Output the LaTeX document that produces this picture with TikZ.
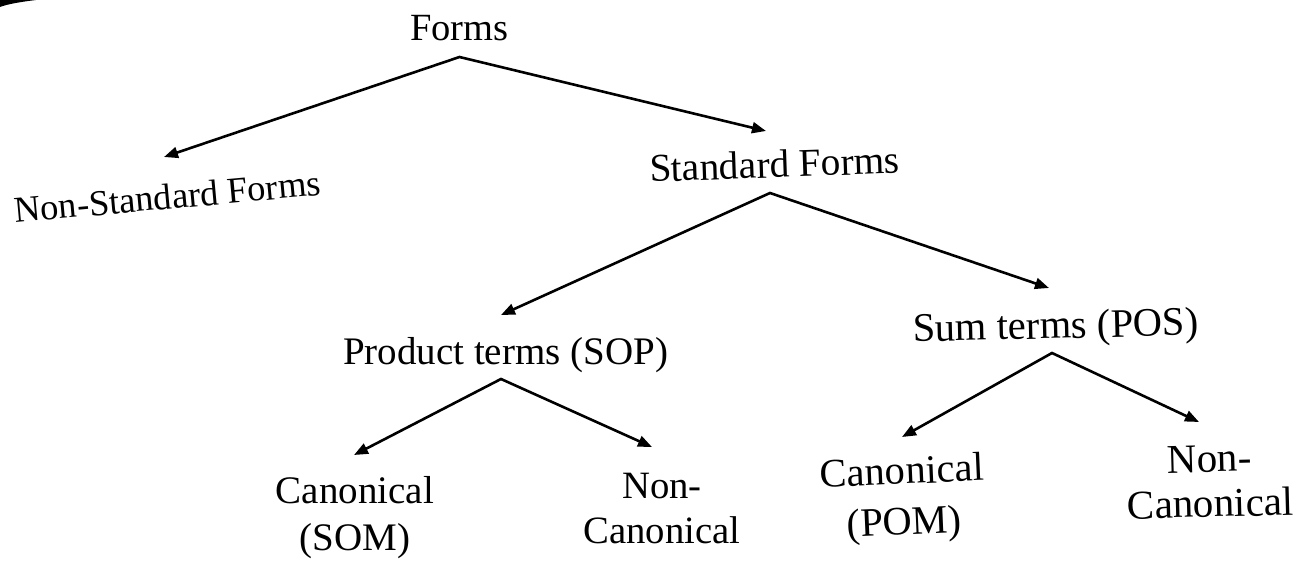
\documentclass[tikz,border=0pt]{standalone}
\usepackage{fontspec}
\setmainfont{Liberation Serif}
\usetikzlibrary{arrows.meta}
\newcommand\lblfont[2]{\fontsize{#1pt}{#2pt}\selectfont}
\tikzset{
  >={Triangle[length=14pt,width=11pt]},
  lbl/.style={inner sep=0pt, anchor=base, align=center, text=black},
  fork/.style={<->, line width=2.6pt, line join=miter, draw=black}
}
\begin{document}
\begin{tikzpicture}[x=1pt, y=-1pt]
  \useasboundingbox (0,0) rectangle (1310,561);
  \fill[white] (0,0) rectangle (1310,561);
  % dark page edge in the upper left corner
  \fill[black] (0,0) -- (36,0) .. controls (20,2) and (8,4) .. (0,7) -- cycle;

  % labels (two-line labels sit on the baseline of their last line)
  \node[lbl, font=\lblfont{38.5}{46}] (forms) at (459.5,41) {Forms};
  \node[lbl, rotate=5.2, font=\lblfont{36.5}{46}] (nsf) at (168.5,209) {Non-Standard Forms};
  \node[lbl, rotate=2, font=\lblfont{39.3}{46}] (std) at (775,177.5) {Standard Forms};
  \node[lbl, font=\lblfont{39}{46}] (prod) at (505.5,365) {Product terms (SOP)};
  \node[lbl, rotate=1.4, font=\lblfont{40.5}{46}] (sum) at (1056,338.5) {Sum terms (POS)};
  \node[lbl, font=\lblfont{39}{47}] (csom) at (355,550) {Canonical\\(SOM)};
  \node[lbl, font=\lblfont{38.7}{45}] (ncsop) at (662,543) {Non-\\Canonical};
  \node[lbl, rotate=2.5, font=\lblfont{40.4}{51}] (cpom) at (905,535) {Canonical\\(POM)};
  \node[lbl, rotate=1.5, font=\lblfont{41}{45}] (ncpos) at (1211,517) {Non-\\Canonical};

  % branches
  \draw[fork] ([xshift=-4.5pt,yshift=52pt]nsf.base) -- ([yshift=-16pt]forms.base) -- ([xshift=-9pt,yshift=46.5pt]std.base);
  \draw[fork] ([xshift=-4.5pt,yshift=50pt]prod.base) -- ([xshift=-5pt,yshift=-15.5pt]std.base) -- ([xshift=-7pt,yshift=50.5pt]sum.base);
  \draw[fork] ([xshift=-1pt,yshift=95pt]csom.base) -- ([xshift=-4.5pt,yshift=-14pt]prod.base) -- ([xshift=-10pt,yshift=96pt]ncsop.base);
  \draw[fork] ([xshift=-3pt,yshift=98pt]cpom.base) -- ([xshift=-4pt,yshift=-14.5pt]sum.base) -- ([xshift=-12pt,yshift=95pt]ncpos.base);
\end{tikzpicture}
\end{document}
